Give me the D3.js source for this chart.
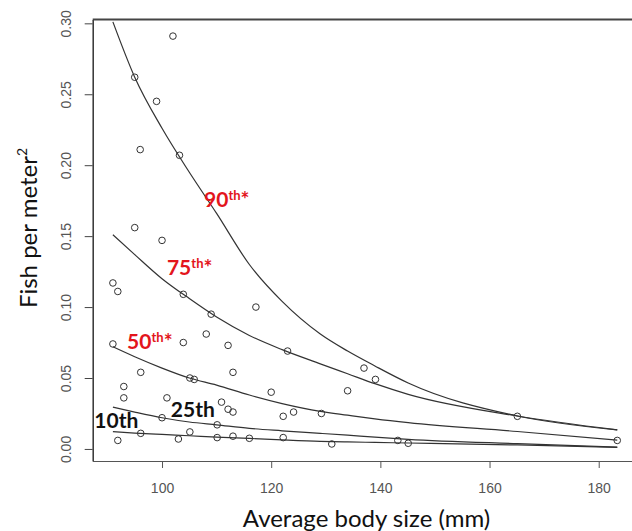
<!DOCTYPE html>
<html>
<head>
<meta charset="utf-8">
<script src="https://cdn.jsdelivr.net/npm/d3@7"></script>
<style>
    body { margin: 0; background: #fff; }
    .tick text { font-family: "Liberation Sans", Arial, sans-serif; font-size: 14px; fill: #555; }
    .axisTitle { font-family: Lato, "Open Sans", sans-serif; font-size: 24px; fill: #111; }
    .qLabel { font-family: Lato, "Open Sans", sans-serif; font-weight: bold; font-size: 21px; }
</style>
</head>
<body>
<script>
//observed sites: body size (mm) and density (fish per m2)
var sizeMm = [102, 95, 99, 96, 103.2, 95, 100, 91, 91.9, 103.9, 117.2, 109, 108.1, 103.9, 112.1,
    91, 123, 96.1, 113, 105.1, 105.9, 93, 93, 100.9, 120, 110.9, 112.1, 113, 124.1, 122.2,
    100, 110.1, 105.1, 96.1, 91.9, 103, 110.1, 113, 116, 122.2, 129.2, 137, 139.1, 134,
    165.1, 183.4, 143.2, 145.1, 131.1];
var density = [0.291, 0.262, 0.245, 0.211, 0.207, 0.156, 0.147, 0.117, 0.111, 0.109, 0.100, 0.095, 0.081, 0.075, 0.073,
    0.074, 0.069, 0.054, 0.054, 0.050, 0.049, 0.044, 0.036, 0.036, 0.040, 0.033, 0.028, 0.026, 0.026, 0.023,
    0.022, 0.017, 0.012, 0.011, 0.006, 0.007, 0.008, 0.009, 0.0075, 0.008, 0.025, 0.057, 0.049, 0.041,
    0.023, 0.006, 0.006, 0.004, 0.0035];

//quantile regression lines, read at a shared set of sizes
var fitSize = [91, 95, 100, 105, 110, 116, 122, 129, 134, 139, 145.1, 165.1, 183.4];
var fit90 = [0.301, 0.262, 0.226, 0.195, 0.166, 0.130, 0.104, 0.081, 0.069, 0.0585, 0.0465, 0.0232, 0.0134];
var fit75 = [0.151, 0.137, 0.120, 0.106, 0.093, 0.080, 0.070, 0.060, 0.053, 0.046, 0.0385, 0.0232, 0.0134];
var fit50 = [0.072, 0.065, 0.057, 0.050, 0.045, 0.038, 0.032, 0.0265, 0.0238, 0.0212, 0.0185, 0.0123, 0.0062];
var fit25 = [0.0295, 0.026, 0.022, 0.019, 0.017, 0.0145, 0.0128, 0.011, 0.0097, 0.0083, 0.0068, 0.0037, 0.0013];
var fit10 = [0.0122, 0.0112, 0.0102, 0.0093, 0.0083, 0.0074, 0.0064, 0.0054, 0.005, 0.0046, 0.0042, 0.0028, 0.0011];

var labelNames = ["90", "75", "50", "25", "10"];
var labelStar = [true, true, true, false, false];
var labelSize = [107.7, 100.9, 93.6, 101.6, 87.6];
var labelDensity = [0.1706, 0.1225, 0.0704, 0.0227, 0.0146];

var xTicks = [100, 120, 140, 160, 180];
var yTicks = [0, 0.05, 0.10, 0.15, 0.20, 0.25, 0.30];

var w = 632, h = 531;

var svg = d3.select("body")
    .append("svg")
    .attr("width", w)
    .attr("height", h);

var x = d3.scaleLinear()
    .domain([87.3, 186.1])
    .range([92.7, 632]);

var y = d3.scaleLinear()
    .domain([-0.0085, 0.3027])
    .range([461, 19.5]);

//x axis, its domain line is the bottom of the frame
var xAxis = svg.append("g")
    .attr("class", "axis")
    .attr("transform", "translate(0," + y.range()[0] + ")")
    .call(d3.axisBottom(x).tickValues(xTicks).tickSize(7).tickSizeOuter(0).tickFormat(d3.format("d")));
xAxis.select(".domain").attr("stroke", "#555").attr("stroke-width", 1.2);
xAxis.selectAll(".tick line").attr("stroke", "#555");
xAxis.selectAll(".tick text").attr("y", 32).attr("dy", 0);

//y axis with rotated labels
var yAxis = svg.append("g")
    .attr("class", "axis")
    .attr("transform", "translate(" + x.range()[0] + ",0)")
    .call(d3.axisLeft(y).tickValues(yTicks).tickSize(8).tickSizeOuter(0).tickFormat(d3.format(".2f")));
yAxis.select(".domain").attr("stroke", "#333").attr("stroke-width", 1.5);
yAxis.selectAll(".tick line").attr("stroke", "#444");
yAxis.selectAll(".tick text")
    .attr("x", 0)
    .attr("y", -22)
    .attr("dy", 0)
    .attr("text-anchor", "middle")
    .attr("transform", "rotate(-90)");

//top edge of the box
svg.append("line")
    .attr("x1", x.range()[0])
    .attr("x2", x.range()[1])
    .attr("y1", y.range()[1])
    .attr("y2", y.range()[1])
    .attr("stroke", "#444")
    .attr("stroke-width", 2);

//fitted lines
var fits = [fit90, fit75, fit50, fit25, fit10];
var line = d3.line()
    .curve(d3.curveMonotoneX)
    .x(function(d, i){ return x(fitSize[i]); })
    .y(function(d){ return y(d); });

svg.selectAll(".fit")
    .data(fits)
    .enter()
    .append("path")
    .attr("class", "fit")
    .attr("d", line)
    .attr("fill", "none")
    .attr("stroke", "#333")
    .attr("stroke-width", 1.2);

//open circles
svg.selectAll(".pt")
    .data(sizeMm)
    .enter()
    .append("circle")
    .attr("class", "pt")
    .attr("cx", function(d){ return x(d); })
    .attr("cy", function(d, i){ return y(density[i]); })
    .attr("r", 3.3)
    .attr("fill", "none")
    .attr("stroke", "#333")
    .attr("stroke-width", 1);

//quantile labels
var labels = svg.selectAll(".qLabel")
    .data(labelNames)
    .enter()
    .append("text")
    .attr("class", "qLabel")
    .attr("x", function(d, i){ return x(labelSize[i]); })
    .attr("y", function(d, i){ return y(labelDensity[i]); })
    .attr("fill", function(d, i){ return labelStar[i] ? "#e3151c" : "#111"; });

labels.append("tspan")
    .text(function(d){ return d; });
labels.append("tspan")
    .attr("font-size", function(d, i){ return labelStar[i] ? 13 : 21; })
    .attr("dy", function(d, i){ return labelStar[i] ? -7 : 0; })
    .text("th");
labels.filter(function(d, i){ return labelStar[i]; })
    .append("tspan")
    .attr("dy", 7)
    .text("*");

//axis titles
svg.append("text")
    .attr("class", "axisTitle")
    .attr("text-anchor", "middle")
    .attr("x", 366.5)
    .attr("y", 527)
    .text("Average body size (mm)");

var yTitle = svg.append("text")
    .attr("class", "axisTitle")
    .attr("text-anchor", "middle")
    .attr("transform", "translate(37,228) rotate(-90)");
yTitle.append("tspan").text("Fish per meter");
yTitle.append("tspan").attr("font-size", 14).attr("dy", -10).text("2");
</script>
</body>
</html>
